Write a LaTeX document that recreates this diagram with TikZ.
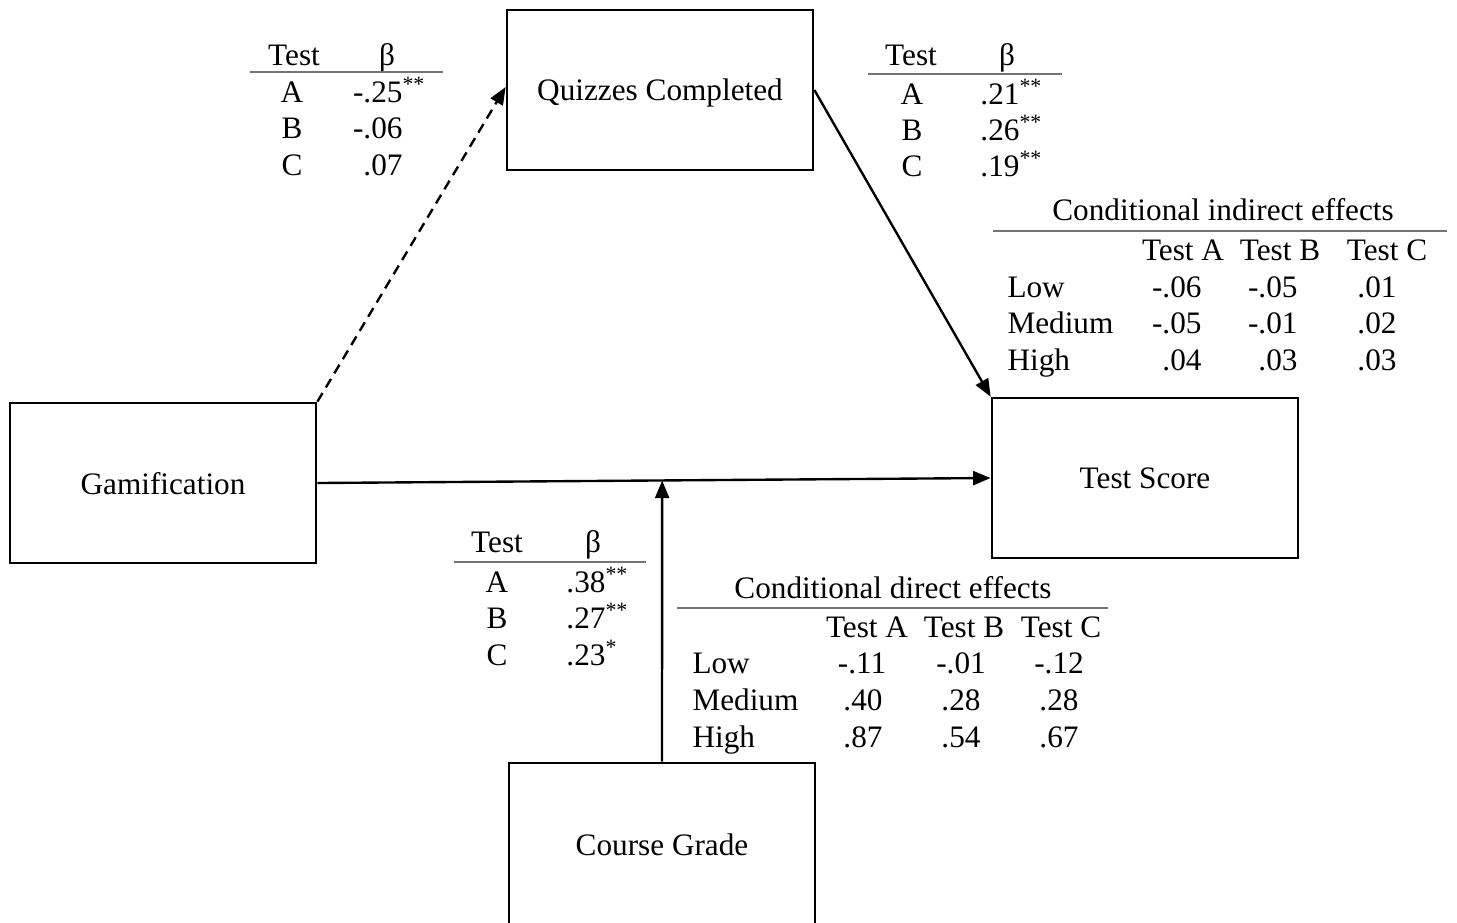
\documentclass[tikz,border=0pt]{standalone}
\usepackage{fontspec}
\setmainfont{Liberation Serif}
\usetikzlibrary{arrows.meta,calc}
\newcommand{\sig}[1]{\rlap{\textsuperscript{#1}}}
\begin{document}
\begin{tikzpicture}[x=0.4pt,y=-0.4pt,
  font=\fontsize{12.5}{15}\selectfont,
  box/.style={draw,line width=1.1pt,minimum width=306*0.4pt,minimum height=160*0.4pt,inner sep=0pt,text depth=0pt},
  arr/.style={line width=0.95pt,-{Triangle[length=7pt,width=5.6pt]}},
  dashedarr/.style={arr,dash pattern=on 4pt off 2.6pt},
  rulel/.style={draw=black!55,line width=0.7pt},
  cell/.style={inner sep=0pt,anchor=base},
  cellr/.style={inner sep=0pt,anchor=base east},
  celll/.style={inner sep=0pt,anchor=base west}]
\useasboundingbox (0,0) rectangle (1457,922);

% boxes
\node[box] (quiz) at (660,90) {Quizzes Completed};
\node[box] (gam) at (163,483) {Gamification};
\node[box] (ts) at (1145,478) {Test Score};
\node[box,minimum height=164*0.4pt] (cg) at (662,845) {Course Grade};

% connectors
\draw[dashedarr] (gam.north east) -- ([yshift=1.2pt]quiz.west);
\draw[arr] (quiz.east) -- (ts.north west);
\draw[arr] (gam.east) -- (ts.west);
\coordinate (mod) at (intersection of gam.east--ts.west and cg.north--cg.center);
\draw[arr] (cg.north) -- (mod);

% table 1: Gamification -> Quizzes
\node[cell] (t1h1) at (294,65) {Test};
\node[cell] (t1h2) at (387,65) {β};
\draw[rulel] (250,72) -- (443,72);
\node[cell] (t1a) at (292,102) {A};
\node[cell] (t1b) at (292,138) {B};
\node[cell] (t1c) at (292,175) {C};
\node[cellr] (t1va) at (403,102) {-.25\sig{**}};
\node[cellr] (t1vb) at (403,138) {-.06};
\node[cellr] (t1vc) at (403,175) {.07};

% table 2: Quizzes -> Test Score
\node[cell] (t2h1) at (911,65) {Test};
\node[cell] (t2h2) at (1007,65) {β};
\draw[rulel] (868,74) -- (1062,74);
\node[cell] (t2a) at (912,104) {A};
\node[cell] (t2b) at (912,140) {B};
\node[cell] (t2c) at (912,176) {C};
\node[cellr] (t2va) at (1020,104) {.21\sig{**}};
\node[cellr] (t2vb) at (1020,140) {.26\sig{**}};
\node[cellr] (t2vc) at (1020,176) {.19\sig{**}};

% table 3: Course Grade moderation
\node[cell] (t3h1) at (497,552) {Test};
\node[cell] (t3h2) at (593,552) {β};
\draw[rulel] (454,562) -- (646,562);
\node[cell] (t3a) at (497,592) {A};
\node[cell] (t3b) at (497,628) {B};
\node[cell] (t3c) at (497,665) {C};
\node[cellr] (t3va) at (606,592) {.38\sig{**}};
\node[cellr] (t3vb) at (606,628) {.27\sig{**}};
\node[cellr] (t3vc) at (606,665) {.23\sig{*}};

% table 4: conditional indirect effects
\node[cell] (t4t) at (1223,220) {Conditional indirect effects};
\draw[rulel] (993,231) -- (1447,231);
\node[cell] (t4h1) at (1183,260) {Test A};
\node[cell] (t4h2) at (1280,260) {Test B};
\node[cell] (t4h3) at (1387,260) {Test C};
\node[celll] (t4r1) at (1007,297) {Low};
\node[celll] (t4r2) at (1007,333) {Medium};
\node[celll] (t4r3) at (1007,370) {High};
\node[cellr] (t4v11) at (1202,297) {-.06};
\node[cellr] (t4v12) at (1298,297) {-.05};
\node[cellr] (t4v13) at (1397,297) {.01};
\node[cellr] (t4v21) at (1202,333) {-.05};
\node[cellr] (t4v22) at (1298,333) {-.01};
\node[cellr] (t4v23) at (1397,333) {.02};
\node[cellr] (t4v31) at (1202,370) {.04};
\node[cellr] (t4v32) at (1298,370) {.03};
\node[cellr] (t4v33) at (1397,370) {.03};

% table 5: conditional direct effects
\node[cell] (t5t) at (893,598) {Conditional direct effects};
\draw[rulel] (677,608) -- (1108,608);
\node[cell] (t5h1) at (867,637) {Test A};
\node[cell] (t5h2) at (964,637) {Test B};
\node[cell] (t5h3) at (1061,637) {Test C};
\node[celll] (t5r1) at (692,673) {Low};
\node[celll] (t5r2) at (692,710) {Medium};
\node[celll] (t5r3) at (692,747) {High};
\node[cell] (t5v11) at (862,673) {-.11};
\node[cell] (t5v12) at (961,673) {-.01};
\node[cell] (t5v13) at (1059,673) {-.12};
\node[cell] (t5v21) at (863,710) {.40};
\node[cell] (t5v22) at (961,710) {.28};
\node[cell] (t5v23) at (1059,710) {.28};
\node[cell] (t5v31) at (863,747) {.87};
\node[cell] (t5v32) at (961,747) {.54};
\node[cell] (t5v33) at (1059,747) {.67};
\end{tikzpicture}
\end{document}
